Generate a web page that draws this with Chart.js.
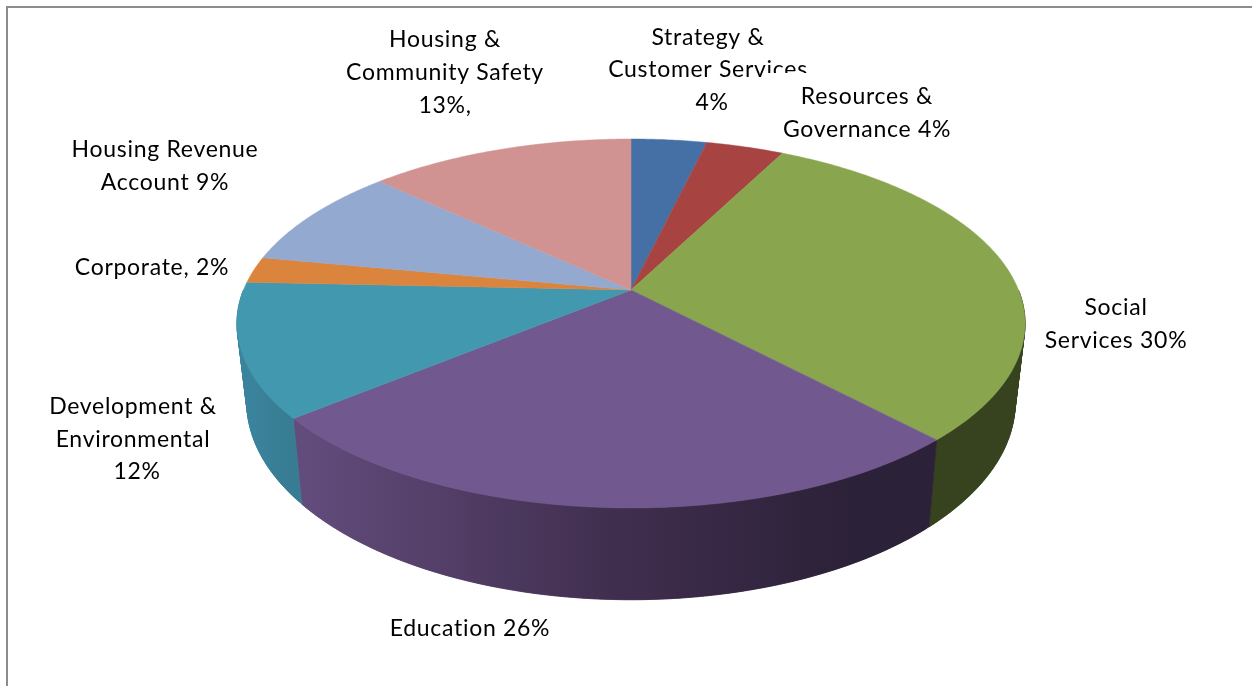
<!DOCTYPE html>
<html>
<head>
<meta charset="utf-8">
<script src="https://cdn.jsdelivr.net/npm/chart.js@4/dist/chart.umd.min.js"></script>
<style>html,body{margin:0;padding:0;background:#fff;overflow:hidden}#w{width:1252px;height:686px;position:relative}</style>
</head>
<body>
<div id="w"><canvas id="c" width="1252" height="686"></canvas></div>
<script>
const categories = ["Strategy & Customer Services","Resources & Governance","Social Services","Education","Development & Environmental","Corporate","Housing Revenue Account","Housing & Community Safety"];
const values = [3.7, 3.8, 30.5, 26, 11.7, 2.3, 9, 13];
const topColors = ["#4470a6","#a74442","#89a54e","#71588f","#4198af","#db843d","#93a9cf","#d19392"];
const sideStart = ["#2a4365","#662928","#37421f","#2b2138","#377c93","#8a5226","#5a6a82","#80595a"];
const sideMid   = ["#2a4365","#662928","#37421f","#402e4e","#387e95","#8a5226","#5a6a82","#80595a"];
const sideEnd   = ["#2a4365","#662928","#37421f","#624c7c","#3b839c","#8a5226","#5a6a82","#80595a"];
const labelLines = [
  ["Strategy &",708,38],["Customer Services",708,70],["4%",712,103],
  ["Resources &",867,97],["Governance 4%",867,130],
  ["Housing &",445,40],["Community Safety",445,73],["13%,",445,106],
  ["Housing Revenue",165,150],["Account 9%",165,183],
  ["Corporate, 2%",152,268],
  ["Social",1116,308],["Services 30%",1116,341],
  ["Development &",133,407],["Environmental",133,440],["12%",137,472],
  ["Education 26%",470,629]
];

const CX=631, CY=290, RX=387.5, RY=178.4, K=0.1816;
function topPt(a){const X=Math.cos(a),Y=Math.sin(a),w=1-K*Y;return [CX+RX*X/w,CY+RY*Y/w];}
function botPt(a){const p=topPt(a);return [CX+(p[0]-CX)*0.975,366.5+(p[1]-CY)*1.07];}

const pie3d={
  id:'pie3d',
  beforeDatasetsDraw(chart){
    const ctx=chart.ctx, arcs=chart.getDatasetMeta(0).data;
    ctx.save();
    ctx.fillStyle='#8c8c8c';
    ctx.fillRect(6,6,1246,2);
    ctx.fillRect(6,6,2,680);
    // side wall: overlapping quads sharing one gradient per slice
    arcs.forEach((el,i)=>{
      const a0=Math.max(el.startAngle,0), a1=Math.min(el.endAngle,Math.PI);
      if(a1<=a0) return;
      const n=Math.ceil((a1-a0)/0.01);
      const g=ctx.createLinearGradient(botPt(a0)[0],0,botPt(a1)[0],0);
      g.addColorStop(0,sideStart[i]);g.addColorStop(0.12,sideStart[i]);
      g.addColorStop(0.5,sideMid[i]);g.addColorStop(1,sideEnd[i]);
      ctx.fillStyle=g;ctx.strokeStyle=g;ctx.lineWidth=0.5;
      for(let s=0;s<n;s++){
        const b0=a0+(a1-a0)*s/n, b1=a0+(a1-a0)*Math.min(s+2,n)/n;
        const p=[topPt(b0),topPt(b1),botPt(b1),botPt(b0)];
        ctx.beginPath();ctx.moveTo(p[0][0],p[0][1]);
        for(let j=1;j<4;j++)ctx.lineTo(p[j][0],p[j][1]);
        ctx.closePath();ctx.fill();ctx.stroke();
      }
    });
    // top faces
    arcs.forEach((el,i)=>{
      ctx.beginPath();ctx.moveTo(CX,CY);
      const n=Math.ceil((el.endAngle-el.startAngle)/0.01);
      for(let s=0;s<=n;s++){const p=topPt(el.startAngle+(el.endAngle-el.startAngle)*s/n);ctx.lineTo(p[0],p[1]);}
      ctx.closePath();
      ctx.fillStyle=el.options.backgroundColor;ctx.strokeStyle=el.options.backgroundColor;ctx.lineWidth=0.5;
      ctx.fill();ctx.stroke();
    });
    // labels
    ctx.font='23px Lato';ctx.letterSpacing='0.7px';ctx.fillStyle='#000';ctx.textAlign='center';ctx.textBaseline='middle';
    labelLines.forEach((l,i)=>{
      if(l[0]==="Resources &"){ctx.fillStyle='#fff';ctx.fillRect(767,73,190,62);ctx.fillStyle='#000';}
      ctx.fillText(l[0],l[1],l[2]);
    });
    ctx.restore();
    return false;
  }
};

new Chart(document.getElementById('c'),{
  type:'pie',
  data:{labels:categories,datasets:[{data:values,backgroundColor:topColors,borderWidth:0}]},
  options:{responsive:false,animation:false,layout:{padding:0},
    plugins:{legend:{display:false},tooltip:{enabled:false}}},
  plugins:[pie3d]
});
</script>
</body>
</html>
